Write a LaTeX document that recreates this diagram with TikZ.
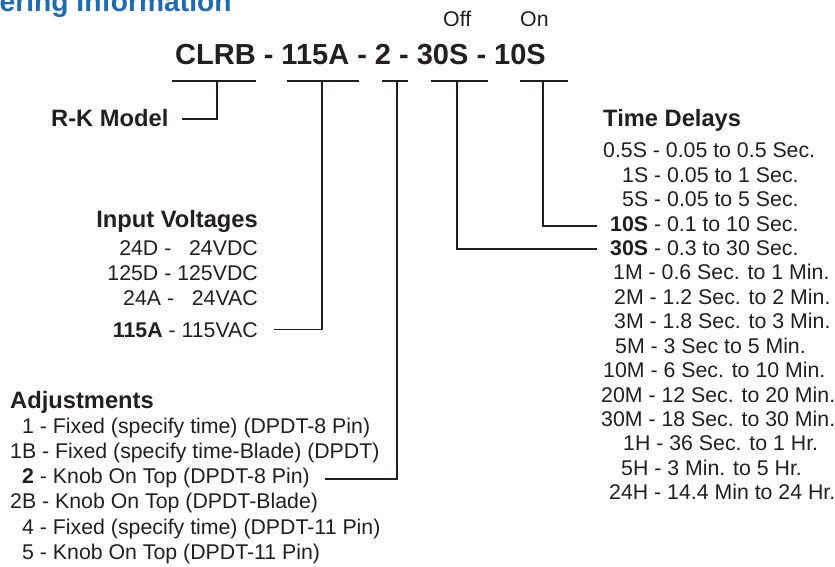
\documentclass[tikz,border=0pt]{standalone}
\usepackage{fontspec}
\setmainfont{Liberation Sans}
\definecolor{ink}{HTML}{231F20}
\definecolor{titleblue}{RGB}{28,108,180}
\begin{document}
\begin{tikzpicture}[x=1pt,y=-1pt,
  txt/.style={anchor=base west,inner sep=0pt,text=ink,font=\fontsize{21.3}{24}\selectfont},
  txtr/.style={txt,anchor=base east},
  head/.style={txt,font=\fontsize{23.7}{26}\selectfont\bfseries},
  code/.style={txt,font=\fontsize{29}{32}\selectfont\bfseries},
  ttl/.style={txt,text=titleblue,font=\fontsize{28.2}{30}\selectfont\bfseries},
  conn/.style={draw=ink,line width=1.2pt}]
\useasboundingbox (0,0) rectangle (835,567);
\fill[white] (0,0) rectangle (835,567);

% title
\node[ttl] (title) at (-0.5,12) {ering Information};

% code line
\node[code] (codeline) at (175,64.5) {CLRB - 115A - 2 - 30S - 10S};
\node[txt] (off) at (443,27) {Off};
\node[txt] (on) at (520,27) {On};

% underline coordinates
\coordinate (a1) at (172,81); \coordinate (a2) at (256,81); \coordinate (am) at (217,81);
\coordinate (b1) at (287,81); \coordinate (b2) at (359,81); \coordinate (bm) at (322,81);
\coordinate (c1) at (382,81); \coordinate (c2) at (408,81); \coordinate (cm) at (397,81);
\coordinate (d1) at (431,81); \coordinate (d2) at (488,81); \coordinate (dm) at (457,81);
\coordinate (e1) at (520,81); \coordinate (e2) at (568,81); \coordinate (em) at (543,81);

\coordinate (ae) at (182,119);
\coordinate (be) at (274,329.5);
\coordinate (ce) at (325,479);
\coordinate (de) at (597,249);
\coordinate (ee) at (597,226);

% R-K model
\node[head] (rk) at (51,127) {R-K Model};

% Input voltages
\node[head,anchor=base east] (iv) at (258,227) {Input Voltages};
\node[txtr] (iv1) at (258,255) {24D - \phantom{1}24VDC};
\node[txtr] (iv2) at (258,280) {125D - 125VDC};
\node[txtr] (iv3) at (258,305) {24A - \phantom{1}24VAC};
\node[txtr] (iv4) at (258,337.5) {\textbf{115A} - 115VAC};

% Adjustments
\node[head] (adj) at (10,408) {Adjustments};
\node[txt] (ad1) at (22,433) {1 - Fixed (specify time) (DPDT-8 Pin)};
\node[txt] (ad2) at (10,458.3) {1B - Fixed (specify time-Blade) (DPDT)};
\node[txt] (ad3) at (22,483.6) {\textbf{2} - Knob On Top (DPDT-8 Pin)};
\node[txt] (ad4) at (10,508.9) {2B - Knob On Top (DPDT-Blade)};
\node[txt] (ad5) at (22,534.2) {4 - Fixed (specify time) (DPDT-11 Pin)};
\node[txt] (ad6) at (22,559.5) {5 - Knob On Top (DPDT-11 Pin)};

% Time delays
\node[head] (td) at (603,127) {Time Delays};
\node[txt] (t1) at (603,157.7) {0.5S - 0.05 to 0.5 Sec.};
\node[txt] (t2) at (622,182.1) {1S - 0.05 to 1 Sec.};
\node[txt] (t3) at (622,206.6) {5S - 0.05 to 5 Sec.};
\node[txt] (t4) at (610,231.0) {\textbf{10S} - 0.1 to 10 Sec.};
\node[txt] (t5) at (610,255.4) {\textbf{30S} - 0.3 to 30 Sec.};
\node[txt] (t6) at (613,279.9) {1M - 0.6 Sec. to 1 Min.};
\node[txt] (t7) at (614,304.3) {2M - 1.2 Sec. to 2 Min.};
\node[txt] (t8) at (614,328.7) {3M - 1.8 Sec. to 3 Min.};
\node[txt] (t9) at (615,353.1) {5M - 3 Sec to 5 Min.};
\node[txt] (t10) at (603,377.6) {10M - 6 Sec. to 10 Min.};
\node[txt] (t11) at (601,402.0) {20M - 12 Sec. to 20 Min.};
\node[txt] (t12) at (601,426.4) {30M - 18 Sec. to 30 Min.};
\node[txt] (t13) at (623,450.9) {1H - 36 Sec. to 1 Hr.};
\node[txt] (t14) at (621,475.3) {5H - 3 Min. to 5 Hr.};
\node[txt] (t15) at (609,499.7) {24H - 14.4 Min to 24 Hr.};

% connectors
\draw[conn] (a1) -- (a2);
\draw[conn] (b1) -- (b2);
\draw[conn] (c1) -- (c2);
\draw[conn] (d1) -- (d2);
\draw[conn] (e1) -- (e2);
\draw[conn] (am) |- (ae);
\draw[conn] (bm) |- (be);
\draw[conn] (cm) |- (ce);
\draw[conn] (dm) |- (de);
\draw[conn] (em) |- (ee);
\end{tikzpicture}
\end{document}
